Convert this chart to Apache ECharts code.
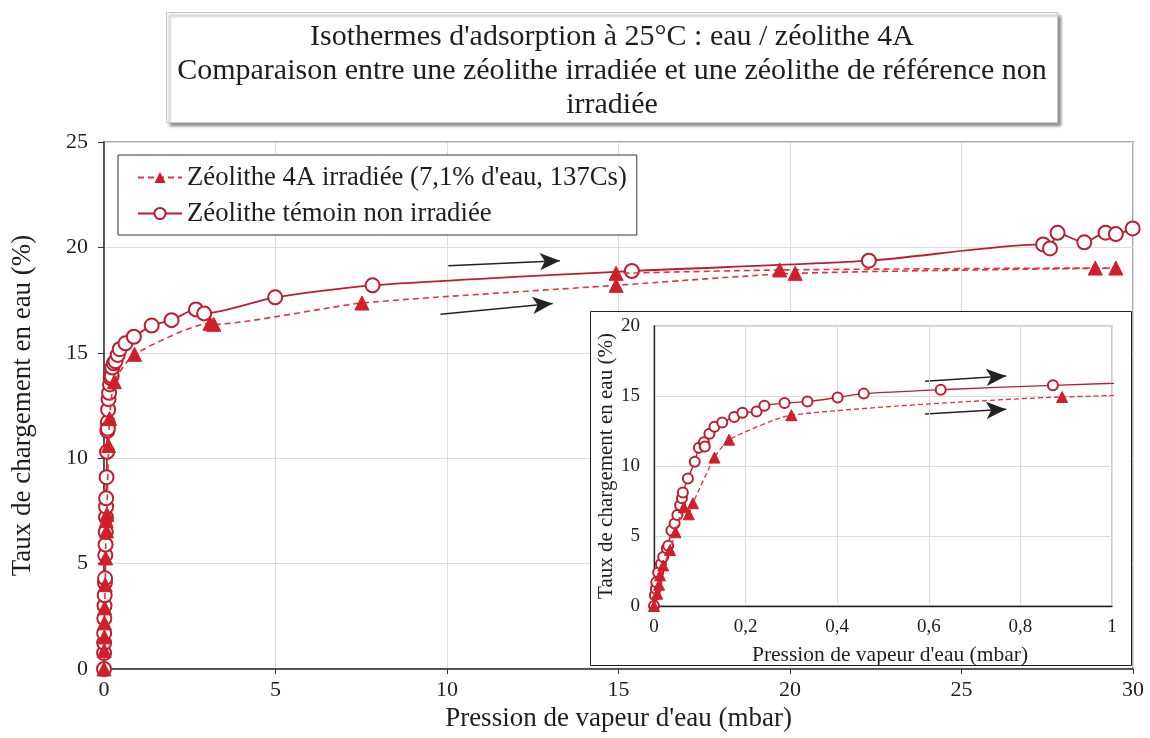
<!DOCTYPE html>
<html>
<head>
<meta charset="utf-8">
<script src="https://cdn.jsdelivr.net/npm/echarts@6/dist/echarts.min.js"></script>
<style>html,body{margin:0;padding:0;background:#fff}#c{width:1150px;height:738px}</style>
</head>
<body>
<div id="c"></div>
<script>
// ---- data (pressure mbar, water loading %) ----
const titleLines = ["Isothermes d'adsorption à 25°C : eau / zéolithe 4A", "Comparaison entre une zéolithe irradiée et une zéolithe de référence non", "irradiée"];
const seriesNames = ["Zéolithe 4A irradiée (7,1% d'eau, 137Cs)", "Zéolithe témoin non irradiée"];
const xName = "Pression de vapeur d'eau (mbar)";
const yName = "Taux de chargement en eau (%)";

const irrP = [0, 0.007, 0.011, 0.013, 0.02, 0.035, 0.047, 0.065, 0.076, 0.085, 0.132, 0.164, 0.30, 0.891, 3.09, 3.2, 7.52, 14.93, 20.15, 29.5, 28.9, 19.7, 14.93];
const irrV = [0, 0.88, 1.52, 2.19, 2.9, 4.0, 5.27, 7.05, 6.55, 7.34, 10.6, 11.88, 13.63, 14.93, 16.4, 16.35, 17.36, 18.2, 18.77, 19.02, 19.02, 18.93, 18.77];

const temP = [0, 0.002, 0.004, 0.005, 0.009, 0.015, 0.02, 0.028, 0.031, 0.038, 0.045, 0.051, 0.057, 0.061, 0.063, 0.074, 0.089, 0.098, 0.109, 0.111, 0.121, 0.132, 0.149, 0.175, 0.193, 0.224, 0.241, 0.285, 0.335, 0.401, 0.458, 0.626, 0.871, 1.39, 1.97, 2.68, 2.92, 4.99, 7.83, 15.39, 22.3, 27.38, 27.58, 27.8, 28.58, 29.2, 29.5, 29.99];
const temV = [0, 0.76, 1.24, 1.7, 2.4, 3.0, 3.5, 4.1, 4.3, 5.4, 5.9, 6.5, 7.2, 7.7, 8.1, 9.1, 10.3, 11.3, 11.7, 11.4, 12.3, 12.8, 13.1, 13.5, 13.8, 13.9, 14.3, 14.5, 14.6, 14.9, 15.17, 15.45, 15.76, 16.29, 16.55, 17.06, 16.87, 17.63, 18.2, 18.88, 19.37, 20.14, 19.95, 20.69, 20.24, 20.7, 20.63, 20.9];

// arrows annotations [x1, y1, x2, y2] in data units
const arrowsMain = [[10.04, 19.13, 13.29, 19.37], [9.81, 16.83, 13.08, 17.34]];
const arrowsInset = [[0.592, 16.05, 0.769, 16.43], [0.592, 13.71, 0.769, 14.05]];

const mainX = {min: 0, max: 30, interval: 5};
const mainY = {min: 0, max: 25, interval: 5};
const insetX = {min: 0, max: 1, interval: 0.2};
const insetY = {min: 0, max: 20, interval: 5};

// ---- styles ----
const FONT = "'Liberation Serif','Times New Roman',serif";
const TXT = '#1e1e1e';
const RED_T = '#d01f2b';
const RED_DASH = '#ec2f37';
const RED_C = '#bd1e2c';

const irrData = irrP.map((p, i) => [p, irrV[i]]);
const temData = temP.map((p, i) => [p, temV[i]]);
const comma = v => String(+v.toFixed(2)).replace('.', ',');

function arrowLines(list) {
  return {
    silent: true,
    symbol: ['none', 'arrow'],
    symbolSize: [13, 20],
    label: {show: false},
    lineStyle: {color: '#222', width: 1.4, type: 'solid'},
    emphasis: {disabled: true},
    data: list.map(a => [{coord: [a[0], a[1]]}, {coord: [a[2], a[3]]}])
  };
}

const chart = echarts.init(document.getElementById('c'), null, {renderer: 'canvas'});
chart.setOption({
  animation: false,
  backgroundColor: '#fff',
  title: {
    text: titleLines.map(t => '{c|' + t + '}').join('\n'),
    left: 166, top: 12,
    padding: [8, 10, 1, 10],
    backgroundColor: '#fff',
    borderColor: '#c8c8c8', borderWidth: 1,
    shadowColor: 'rgba(0,0,0,0.45)', shadowBlur: 3, shadowOffsetX: 3, shadowOffsetY: 3,
    textStyle: {
      fontFamily: FONT, fontSize: 30, fontWeight: 'normal', color: TXT, lineHeight: 34,
      rich: {c: {width: 872, align: 'center', fontFamily: FONT, fontSize: 30, lineHeight: 34, color: TXT}}
    }
  },
  legend: {
    orient: 'vertical', left: 118, top: 155,
    padding: [9, 10, 8, 19],
    itemWidth: 44, itemHeight: 14, itemGap: 9,
    borderColor: '#333', borderWidth: 1, backgroundColor: '#fff',
    data: seriesNames,
    textStyle: {fontFamily: FONT, fontSize: 26.7, color: TXT},
    z: 6
  },
  graphic: [{
    type: 'rect', z: 4, silent: true,
    shape: {x: 590.5, y: 311.5, width: 541, height: 354},
    style: {fill: '#fff', stroke: '#222', lineWidth: 1}
  }],
  grid: [
    {left: 104, right: 17, top: 142, bottom: 69, show: true, borderColor: '#a8a8a8', borderWidth: 2, backgroundColor: 'transparent'},
    {left: 654, right: 38, top: 326, bottom: 132, show: true, borderColor: '#bdbdbd', borderWidth: 1.5, backgroundColor: 'transparent', z: 5}
  ],
  xAxis: [
    {type: 'value', gridIndex: 0, min: mainX.min, max: mainX.max, interval: mainX.interval,
     name: xName, nameLocation: 'middle', nameGap: 35,
     nameTextStyle: {fontFamily: FONT, fontSize: 27, color: TXT},
     axisLine: {lineStyle: {color: '#333', width: 1.5}},
     axisTick: {show: true, inside: false, length: 5, lineStyle: {color: '#333'}},
     axisLabel: {fontFamily: FONT, fontSize: 22, color: TXT, margin: 10},
     splitLine: {show: true, lineStyle: {color: '#dcdcdc', width: 1}}},
    {type: 'value', gridIndex: 1, min: insetX.min, max: insetX.max, interval: insetX.interval,
     name: xName, nameLocation: 'middle', nameGap: 38, z: 6,
     nameTextStyle: {fontFamily: FONT, fontSize: 21.5, color: TXT, padding: [0, 0, 0, 14]},
     axisLine: {lineStyle: {color: '#222', width: 1.3}},
     axisTick: {show: false},
     axisLabel: {fontFamily: FONT, fontSize: 19, color: TXT, margin: 12, formatter: comma},
     splitLine: {show: true, lineStyle: {color: '#dcdcdc', width: 1}}}
  ],
  yAxis: [
    {type: 'value', gridIndex: 0, min: mainY.min, max: mainY.max, interval: mainY.interval,
     name: yName, nameLocation: 'middle', nameGap: 68,
     nameTextStyle: {fontFamily: FONT, fontSize: 27, color: TXT},
     axisLine: {show: true, lineStyle: {color: '#333', width: 1.5}},
     axisTick: {show: true, inside: false, length: 6, lineStyle: {color: '#333'}},
     axisLabel: {fontFamily: FONT, fontSize: 22, color: TXT, margin: 16},
     splitLine: {show: true, lineStyle: {color: '#dcdcdc', width: 1}}},
    {type: 'value', gridIndex: 1, min: insetY.min, max: insetY.max, interval: insetY.interval,
     name: yName, nameLocation: 'middle', nameGap: 35, z: 6,
     nameTextStyle: {fontFamily: FONT, fontSize: 21, color: TXT},
     axisLine: {show: true, lineStyle: {color: '#222', width: 1.3}},
     axisTick: {show: false},
     axisLabel: {fontFamily: FONT, fontSize: 19, color: TXT, margin: 14},
     splitLine: {show: true, lineStyle: {color: '#dcdcdc', width: 1}}}
  ],
  series: [
    {name: seriesNames[0], type: 'line', xAxisIndex: 0, yAxisIndex: 0, data: irrData,
     smooth: 0.2, symbol: 'triangle', symbolSize: 14, z: 4,
     itemStyle: {color: RED_T, borderColor: RED_T},
     lineStyle: {color: RED_DASH, width: 1.6, type: [6, 4]},
     markLine: arrowLines(arrowsMain)},
    {name: seriesNames[1], type: 'line', xAxisIndex: 0, yAxisIndex: 0, data: temData,
     smooth: 0.25, symbol: 'emptyCircle', symbolSize: 14, z: 3,
     itemStyle: {color: RED_C, borderColor: RED_C, borderWidth: 1.2},
     lineStyle: {color: RED_C, width: 1.8}},
    {name: seriesNames[0], type: 'line', xAxisIndex: 1, yAxisIndex: 1, data: irrData,
     smooth: 0.2, symbol: 'triangle', symbolSize: 11, z: 9, clip: true,
     itemStyle: {color: RED_T, borderColor: RED_T},
     lineStyle: {color: RED_DASH, width: 1.3, type: [5, 3]},
     markLine: arrowLines(arrowsInset)},
    {name: seriesNames[1], type: 'line', xAxisIndex: 1, yAxisIndex: 1, data: temData,
     smooth: 0.25, symbol: 'emptyCircle', symbolSize: 10, z: 8, clip: true,
     itemStyle: {color: RED_C, borderColor: RED_C, borderWidth: 1},
     lineStyle: {color: RED_C, width: 1.4}}
  ]
});
</script>
</body>
</html>
